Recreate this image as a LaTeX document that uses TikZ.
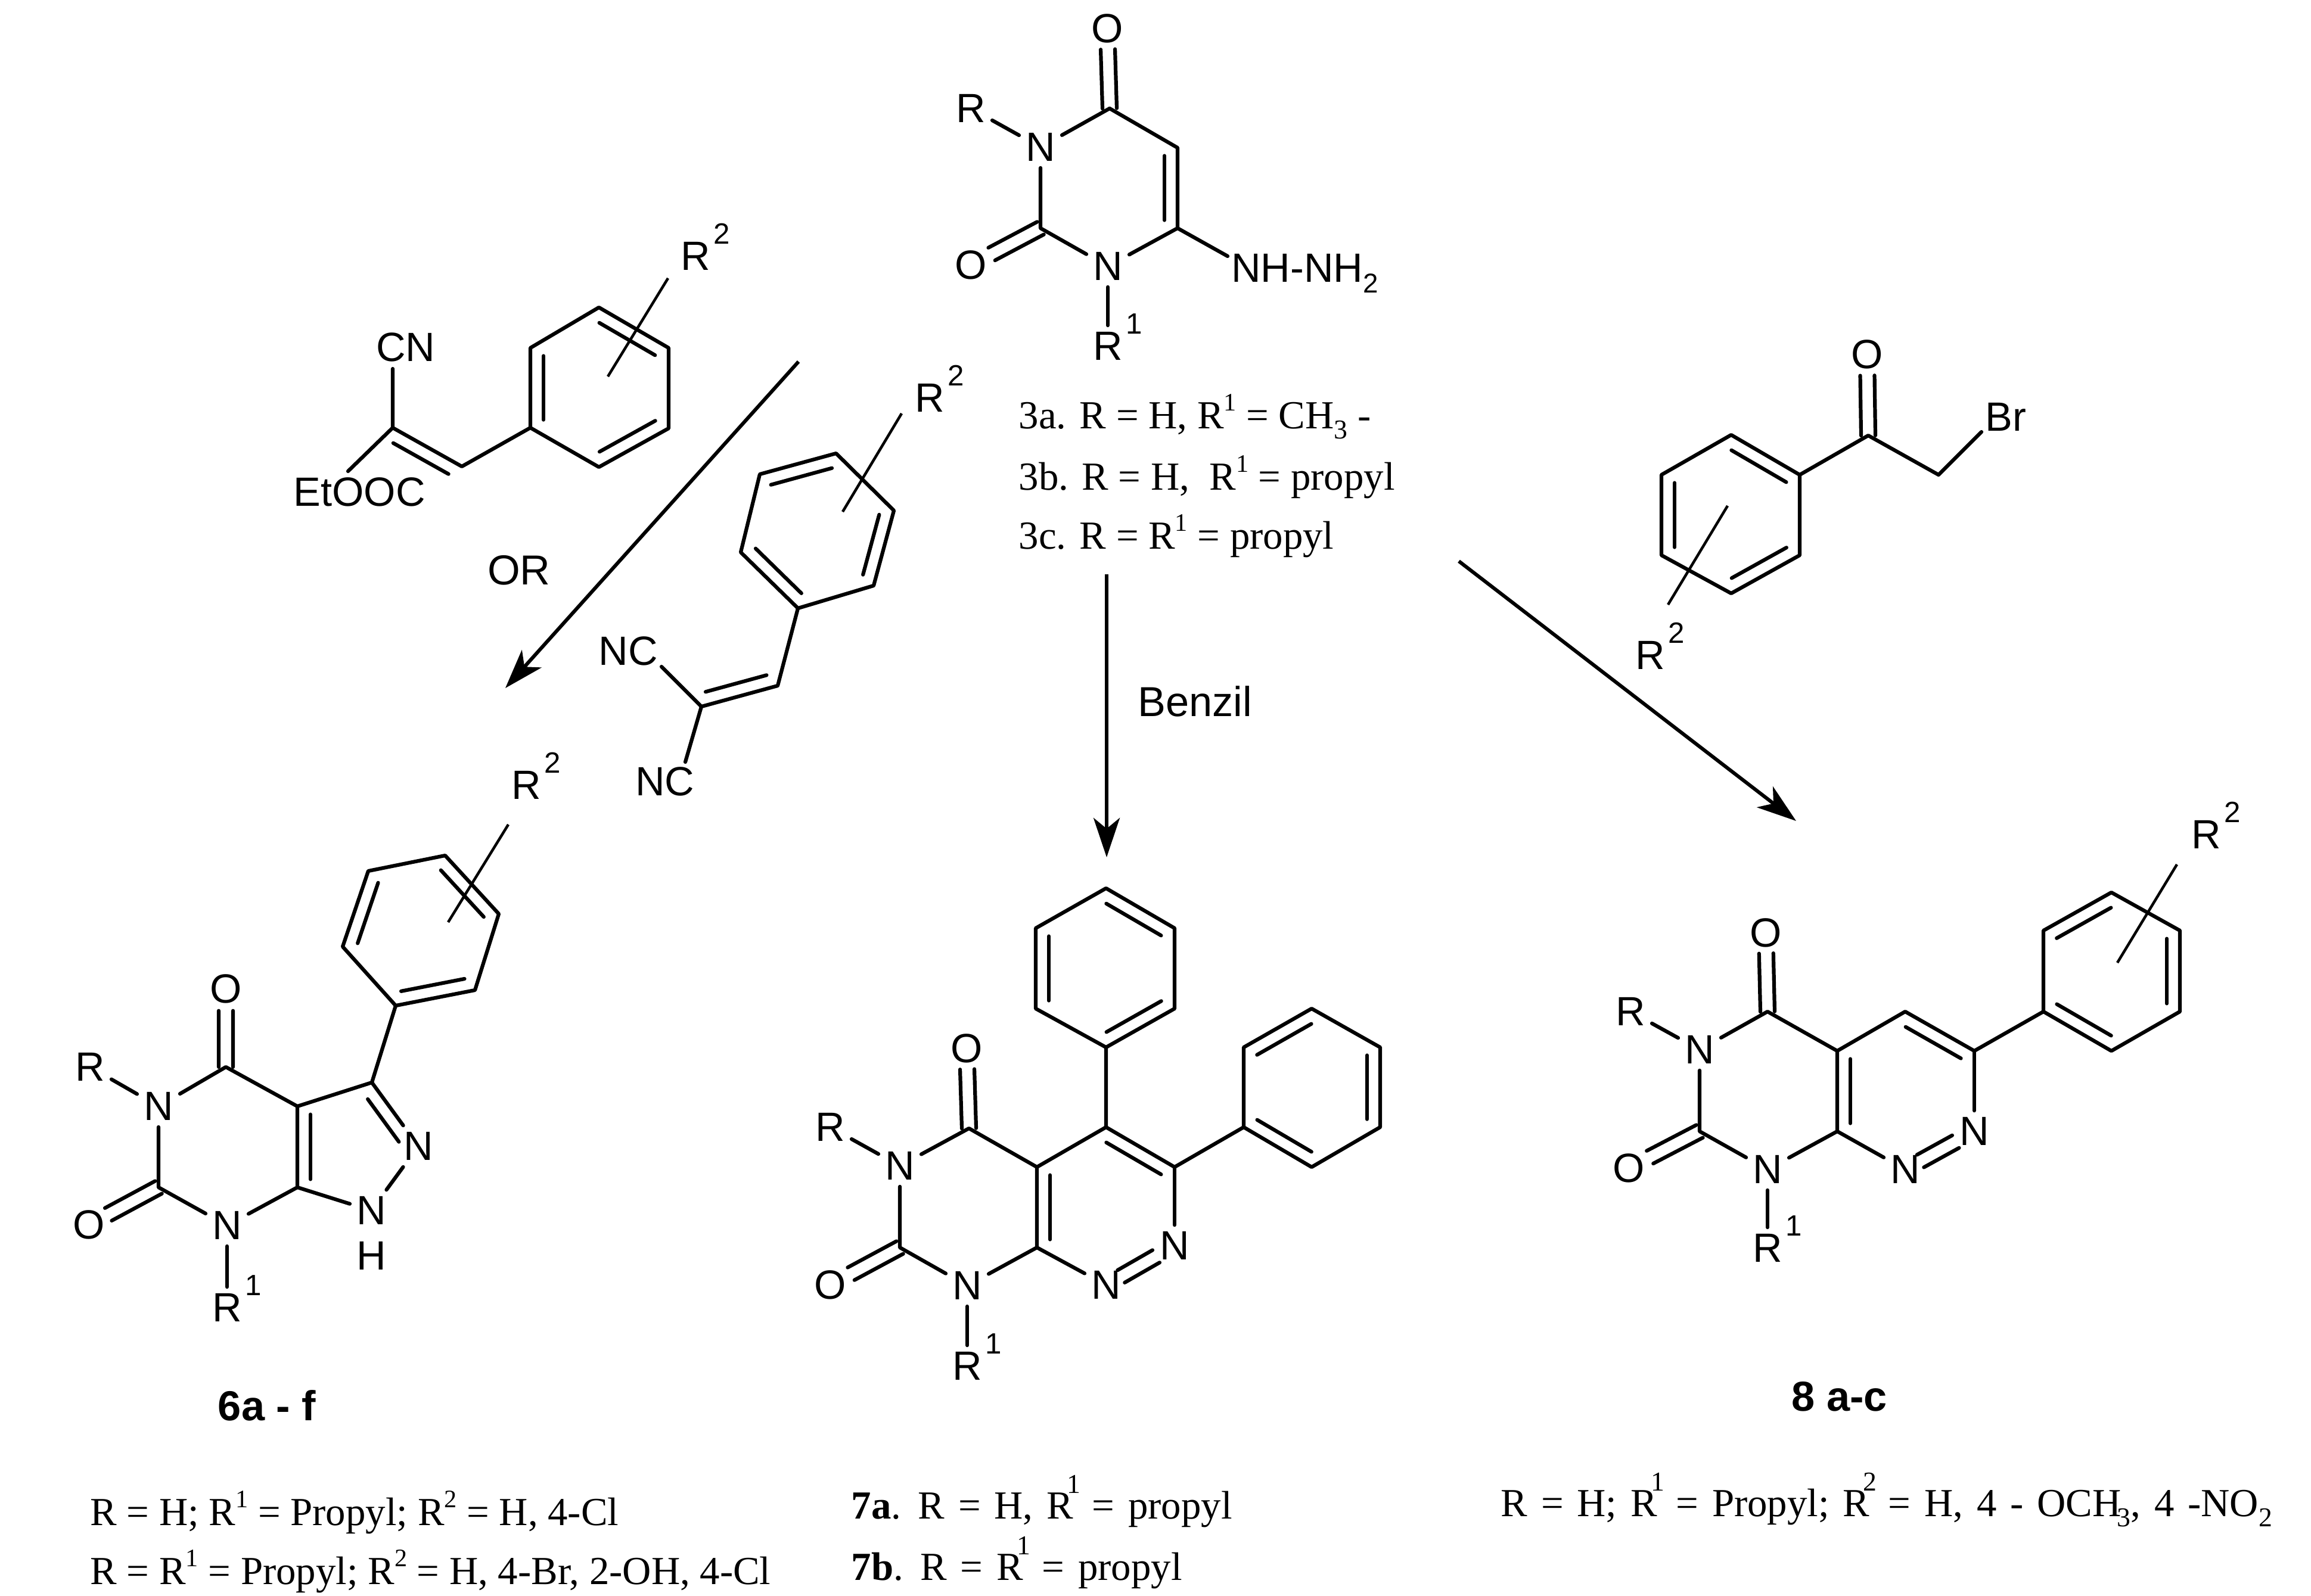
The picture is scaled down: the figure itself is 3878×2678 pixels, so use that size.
\documentclass[tikz,border=0pt]{standalone}
\usepackage{fontspec}
\setmainfont{Liberation Sans}
\newfontfamily\tms{Liberation Serif}
\usetikzlibrary{calc,arrows.meta}
\newcommand\Rs[1]{R\rlap{\smash{\hspace{1.5pt}\raisebox{12.5pt}{\fontsize{14}{14}\selectfont #1}}}}
\newcommand\tsup[1]{\raisebox{8.5pt}{\fontsize{12}{12}\selectfont #1}}
\newcommand\tsupb[1]{\hspace{-3pt}\raisebox{12pt}{\fontsize{13}{13}\selectfont #1}\hspace{-1pt}}
\newcommand\tsub[1]{\raisebox{-5pt}{\fontsize{13}{13}\selectfont #1}}
\newcommand\inb[2]{\draw[bond] ($(#1)!.1!(#2)!0.22cm!90:(#2)$) -- ($(#2)!.1!(#1)!0.22cm!-90:(#1)$);}
\newcommand\inbf[4]{\draw[bond] ($(#1)!#3!(#2)!0.22cm!90:(#2)$) -- ($(#1)!#4!(#2)!0.22cm!90:(#2)$);}
\newcommand\sym[4]{%
 \draw[bond] ($(#1)!#3!(#2)!0.12cm!90:(#2)$) -- ($(#1)!#4!(#2)!0.12cm!90:(#2)$);
 \draw[bond] ($(#1)!#3!(#2)!-0.12cm!90:(#2)$) -- ($(#1)!#4!(#2)!-0.12cm!90:(#2)$);}
\tikzset{
 bond/.style={line width=0.062cm,line cap=round,line join=round},
 thinbond/.style={line width=0.045cm,line cap=butt},
 rxn/.style={line width=0.06cm,-{Stealth[length=0.66cm,width=0.44cm,inset=0.18cm]}},
 atom/.style={inner sep=3pt,font=\fontsize{19.5}{22}\selectfont},
 lab/.style={inner sep=0pt,font=\fontsize{20}{24}\selectfont},
 blab/.style={inner sep=0pt,font=\fontsize{20}{24}\selectfont\bfseries},
 tline/.style={inner sep=0pt,anchor=base west,font=\tms\fontsize{19}{24}\selectfont},
 wline/.style={tline,execute at begin node={\spaceskip=6.5pt}},
}
\begin{document}
\begin{tikzpicture}[x=0.01cm,y=-0.01cm]
\useasboundingbox (0,0) rectangle (3878,2678);
\fill[white] (0,0) rectangle (3878,2678);
% ---------- 3
\node[atom] (aO) at (1858,48) {O};
\coordinate (aC4) at (1862,182);
\coordinate (aC5) at (1976,248);
\coordinate (aC6) at (1976,383);
\node[atom] (aN1) at (1859,447) {N};
\coordinate (aC2) at (1746,383);
\node[atom] (aN3) at (1746,247) {N};
\node[atom] (aR) at (1629,182) {R};
\node[atom] (aOb) at (1629,445) {O};
\node[atom,anchor=west] (aNH) at (2055,450) {NH-NH\rlap{\smash{\tsub{2}}}};
\node[atom] (aRa) at (1859,581) {\Rs{1}};
\coordinate (aNHe) at (2060,430);
\draw[bond] (aC4) -- (aN3);
\draw[bond] (aC4) -- (aC5) -- (aC6) -- (aN1);
\draw[bond] (aN3) -- (aC2) -- (aN1);
\draw[bond] (aN3) -- (aR);
\draw[bond] (aN1) -- (aRa);
\draw[bond] (aC6) -- (aNHe);
\inb{aC6}{aC5}
\sym{aC4}{aO}{0}{.74}
\sym{aC2}{aOb}{0}{.70}
\node[tline] (t3a) at (1709,719) {3a. R = H, R\tsup{1} = CH\tsub{3} -};
\node[tline] (t3b) at (1709,822) {3b. R = H,~ R\tsup{1} = propyl};
\node[tline] (t3c) at (1709,921) {3c. R = R\tsup{1} = propyl};
% ---------- benzylidene cyanoacetate
\node[atom] (bCN) at (681,583) {CN};
\coordinate (bCNe) at (659,619);
\coordinate (bCa) at (659,718);
\coordinate (bCb) at (775,783);
\coordinate (bI) at (890,718);
\coordinate (bTL) at (890,584);
\coordinate (bT) at (1005,516);
\coordinate (bTR) at (1122,584);
\coordinate (bBR) at (1122,719);
\coordinate (bB) at (1005,784);
\node[atom] (bEt) at (603,826) {EtOOC};
\coordinate (bEte) at (584,791);
\node[atom] (bR) at (1167,430) {\Rs{2}};
\coordinate (bS1) at (1020,632);
\coordinate (bS2) at (1121,467);
\draw[bond] (bCNe) -- (bCa) -- (bCb) -- (bI) -- (bTL) -- (bT) -- (bTR) -- (bBR) -- (bB) -- (bI);
\draw[bond] (bCa) -- (bEte);
\inb{bCb}{bCa}
\inb{bTL}{bI}
\inb{bB}{bBR}
\inb{bTR}{bT}
\draw[thinbond] (bS1) -- (bS2);
% ---------- benzylidene malononitrile
\node[atom] (cR) at (1560,668) {\Rs{2}};
\coordinate (cS1) at (1513,694);
\coordinate (cS2) at (1414,859);
\coordinate (cA) at (1403,761);
\coordinate (cB) at (1500,857);
\coordinate (cC) at (1466,983);
\coordinate (cD) at (1339,1021);
\coordinate (cE) at (1243,927);
\coordinate (cF) at (1275,796);
\coordinate (cV) at (1305,1151);
\coordinate (cW) at (1177,1186);
\node[atom] (cNa) at (1054,1093) {NC};
\node[atom] (cNb) at (1116,1312) {NC};
\coordinate (cNae) at (1110,1119);
\coordinate (cNbe) at (1150,1279);
\draw[bond] (cA) -- (cB) -- (cC) -- (cD) -- (cE) -- (cF) -- cycle;
\draw[bond] (cD) -- (cV) -- (cW) -- (cNae);
\draw[bond] (cW) -- (cNbe);
\inb{cA}{cF}
\inb{cE}{cD}
\inb{cC}{cB}
\inb{cW}{cV}
\draw[thinbond] (cS1) -- (cS2);
% ---------- phenacyl bromide
\coordinate (dT) at (2905,730);
\coordinate (dTR) at (3020,797);
\coordinate (dBR) at (3020,932);
\coordinate (dB) at (2905,996);
\coordinate (dBL) at (2788,932);
\coordinate (dTL) at (2788,797);
\coordinate (dC) at (3135,731);
\node[atom] (dO) at (3133,595) {O};
\coordinate (dCH) at (3253,797);
\node[atom] (dBr) at (3366,700) {Br};
\coordinate (dBre) at (3325,725);
\coordinate (dS1) at (2899,849);
\coordinate (dS2) at (2799,1015);
\node[atom] (dR) at (2769,1100) {\Rs{2}};
\draw[bond] (dT) -- (dTR) -- (dBR) -- (dB) -- (dBL) -- (dTL) -- cycle;
\draw[bond] (dTR) -- (dC) -- (dCH) -- (dBre);
\inb{dTR}{dT}
\inb{dB}{dBR}
\inb{dTL}{dBL}
\sym{dC}{dO}{0}{.74}
\draw[thinbond] (dS1) -- (dS2);
% ---------- arrows
\coordinate (ra1) at (1340,607);
\coordinate (ra2) at (848,1155);
\coordinate (rb1) at (1857,964);
\coordinate (rb2) at (1857,1439);
\coordinate (rc1) at (2448,942);
\coordinate (rc2) at (3014,1378);
\draw[rxn] (ra1) -- (ra2);
\draw[rxn] (rb1) -- (rb2);
\draw[rxn] (rc1) -- (rc2);
\node[lab] (or) at (871,957) {OR};
\node[lab] (benzil) at (2005,1177) {Benzil};
% ---------- 6
\node[atom] (eR) at (883,1318) {\Rs{2}};
\coordinate (eS1) at (853,1384);
\coordinate (eS2) at (752,1548);
\coordinate (ea) at (747,1436);
\coordinate (eb) at (837,1534);
\coordinate (ec) at (797,1662);
\coordinate (ed) at (664,1688);
\coordinate (ee) at (575,1589);
\coordinate (ef) at (618,1462);
\coordinate (eC3) at (624,1817);
\coordinate (eC3a) at (499,1857);
\coordinate (eC7a) at (499,1993);
\node[atom] (eNb) at (702,1924) {N};
\node[atom] (eNa) at (623,2032) {N};
\node[inner sep=0pt,font=\fontsize{19.5}{22}\selectfont] (eH) at (623,2108) {H};
\coordinate (eC4) at (379,1791);
\node[atom] (eO) at (379,1660) {O};
\node[atom] (eN5) at (266,1857) {N};
\node[atom] (eRr) at (151,1791) {R};
\coordinate (eC6) at (266,1993);
\node[atom] (eOb) at (149,2056) {O};
\node[atom] (eN7) at (381,2057) {N};
\node[atom] (eRa) at (381,2195) {\Rs{1}};
\draw[bond] (ea) -- (eb) -- (ec) -- (ed) -- (ee) -- (ef) -- cycle;
\draw[bond] (ed) -- (eC3) -- (eC3a) -- (eC7a) -- (eN7) -- (eC6) -- (eN5) -- (eC4) -- (eC3a);
\draw[bond] (eC3) -- (eNb) -- (eNa) -- (eC7a);
\draw[bond] (eN5) -- (eRr);
\draw[bond] (eN7) -- (eRa);
\inb{eb}{ea}
\inb{ed}{ec}
\inb{ef}{ee}
\inb{eC3a}{eC7a}
\inbf{eNb}{eC3}{.19}{.86}
\sym{eC4}{eO}{0}{.72}
\sym{eC6}{eOb}{0}{.72}
\draw[thinbond] (eS1) -- (eS2);
\node[blab] (t6) at (448,2359) {6a - f};
\node[tline] (t6a) at (151,2560) {R = H; R\tsup{1} = Propyl; R\tsup{2} = H, 4-Cl};
\node[tline] (t6b) at (151,2659) {R = R\tsup{1} = Propyl; R\tsup{2} = H, 4-Br, 2-OH, 4-Cl};
% ---------- 7
\coordinate (fT) at (1856,1491);
\coordinate (fTR) at (1971,1558);
\coordinate (fBR) at (1971,1693);
\coordinate (fB) at (1856,1758);
\coordinate (fBL) at (1738,1693);
\coordinate (fTL) at (1738,1558);
\coordinate (fC5) at (1856,1892);
\coordinate (fC6) at (1971,1959);
\node[atom] (fN7) at (1971,2091) {N};
\node[atom] (fN8) at (1856,2157) {N};
\coordinate (fC8a) at (1740,2094);
\coordinate (fC4a) at (1740,1959);
\coordinate (fC4) at (1626,1894);
\node[atom] (fO) at (1622,1760) {O};
\node[atom] (fN3) at (1510,1957) {N};
\node[atom] (fRr) at (1393,1892) {R};
\coordinate (fC2) at (1510,2094);
\node[atom] (fOb) at (1393,2157) {O};
\node[atom] (fN1) at (1623,2158) {N};
\node[atom] (fRa) at (1623,2293) {\Rs{1}};
\coordinate (fI) at (2087,1892);
\coordinate (fQTL) at (2087,1758);
\coordinate (fQT) at (2201,1693);
\coordinate (fQTR) at (2316,1758);
\coordinate (fQBR) at (2316,1892);
\coordinate (fQB) at (2201,1959);
\draw[bond] (fT) -- (fTR) -- (fBR) -- (fB) -- (fBL) -- (fTL) -- cycle;
\draw[bond] (fB) -- (fC5) -- (fC6) -- (fI);
\draw[bond] (fI) -- (fQTL) -- (fQT) -- (fQTR) -- (fQBR) -- (fQB) -- cycle;
\draw[bond] (fC5) -- (fC4a) -- (fC8a) -- (fN1) -- (fC2) -- (fN3) -- (fC4) -- (fC4a);
\draw[bond] (fC6) -- (fN7);
\draw[bond] (fC8a) -- (fN8);
\draw[bond] (fN3) -- (fRr);
\draw[bond] (fN1) -- (fRa);
\inb{fTR}{fT}
\inb{fB}{fBR}
\inb{fTL}{fBL}
\inb{fQT}{fQTL}
\inb{fQBR}{fQTR}
\inb{fI}{fQB}
\inb{fC6}{fC5}
\inb{fC4a}{fC8a}
\sym{fN8}{fN7}{.22}{.73}
\sym{fC4}{fO}{0}{.74}
\sym{fC2}{fOb}{0}{.70}
\node[wline] (t7a) at (1428,2549) {\textbf{7a}. R = H, R\tsupb{1} = propyl};
\node[wline] (t7b) at (1428,2652) {\textbf{7b}. R = R\tsupb{1} = propyl};
% ---------- 8
\node[atom] (gR) at (3702,1401) {\Rs{2}};
\coordinate (gS1) at (3653,1451);
\coordinate (gS2) at (3553,1616);
\coordinate (gT) at (3543,1498);
\coordinate (gTR) at (3658,1562);
\coordinate (gBR) at (3658,1698);
\coordinate (gB) at (3543,1764);
\coordinate (gI) at (3429,1698);
\coordinate (gTL) at (3429,1562);
\coordinate (gC5) at (3197,1698);
\coordinate (gC6) at (3313,1764);
\node[atom] (gN7) at (3313,1899) {N};
\node[atom] (gN8) at (3197,1963) {N};
\coordinate (gC8a) at (3083,1899);
\coordinate (gC4a) at (3083,1764);
\coordinate (gC4) at (2966,1698);
\node[atom] (gO) at (2963,1566) {O};
\node[atom] (gN3) at (2852,1762) {N};
\node[atom] (gRr) at (2736,1698) {R};
\coordinate (gC2) at (2852,1899);
\node[atom] (gOb) at (2733,1961) {O};
\node[atom] (gN1) at (2966,1963) {N};
\node[atom] (gRa) at (2966,2095) {\Rs{1}};
\draw[bond] (gT) -- (gTR) -- (gBR) -- (gB) -- (gI) -- (gTL) -- cycle;
\draw[bond] (gI) -- (gC6) -- (gC5) -- (gC4a) -- (gC8a) -- (gN1) -- (gC2) -- (gN3) -- (gC4) -- (gC4a);
\draw[bond] (gC6) -- (gN7);
\draw[bond] (gC8a) -- (gN8);
\draw[bond] (gN3) -- (gRr);
\draw[bond] (gN1) -- (gRa);
\inb{gT}{gTL}
\inb{gBR}{gTR}
\inb{gI}{gB}
\inb{gC6}{gC5}
\inb{gC4a}{gC8a}
\sym{gN8}{gN7}{.22}{.73}
\sym{gC4}{gO}{0}{.74}
\sym{gC2}{gOb}{0}{.70}
\draw[thinbond] (gS1) -- (gS2);
\node[blab] (t8) at (3087,2344) {8 a-c};
\node[wline] (t8a) at (2518,2545) {R = H; R\tsupb{1} = Propyl; R\tsupb{2} = H, 4 - OCH\hspace{-2pt}\tsub{3}, 4 -NO\tsub{2}};
\end{tikzpicture}
\end{document}
